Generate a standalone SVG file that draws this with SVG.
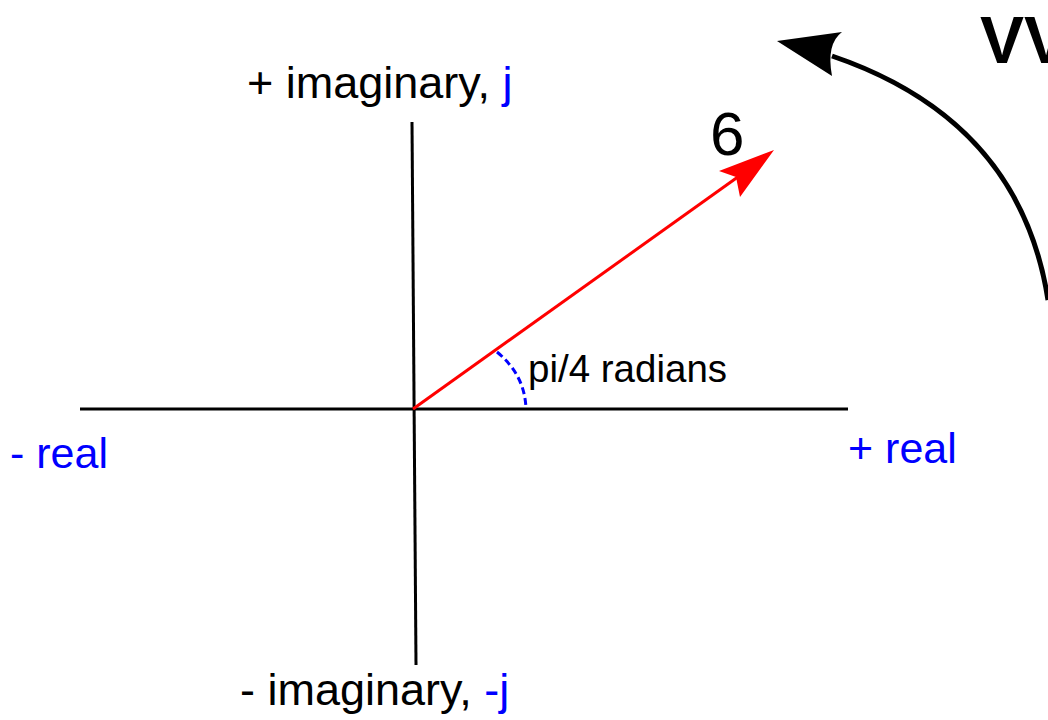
<svg xmlns="http://www.w3.org/2000/svg" width="1048" height="720" viewBox="0 0 1048 720">
<style>
.lbl{font-family:"Liberation Sans",Arial,sans-serif;font-size:43px;fill:#000}
.im{font-size:45px}
.blue{fill:#0000ff}
.axis{stroke:#000;stroke-width:3;fill:none}
</style>
<rect width="1048" height="720" fill="#fff"/>
<g id="connectors">
<line class="axis" x1="80" y1="409" x2="848" y2="409"/>
<line class="axis" x1="412" y1="122" x2="416" y2="665"/>
<line x1="413" y1="409" x2="742" y2="174" stroke="#ff0000" stroke-width="3"/>
<path d="M774,150 L719,171 L736,177 L740,197 Z" fill="#ff0000"/>
<path d="M497,352 Q525,375 526,409" stroke="#0000ff" stroke-width="3" fill="none" stroke-dasharray="7,4"/>
<path d="M1048,300 Q1020,120 832,56" stroke="#000" stroke-width="5" fill="none"/>
<path d="M777,41 L842,32 Q826,44 832,76 Z" fill="#000"/>
</g>
<g id="labels">
<text class="lbl im" x="247" y="98">+ imaginary, <tspan class="blue">j</tspan></text>
<text class="lbl im" x="240" y="705">- imaginary, <tspan class="blue">-j</tspan></text>
<text class="lbl blue" x="10" y="468">- real</text>
<text class="lbl blue" x="848" y="463">+ real</text>
<text class="lbl" x="528" y="382" style="font-size:38.5px">pi/4 radians</text>
<text class="lbl" x="710" y="155" style="font-size:62px">6</text>
<text class="lbl" x="980" y="63" style="font-size:66px;font-weight:bold">VV</text>
</g>
</svg>
